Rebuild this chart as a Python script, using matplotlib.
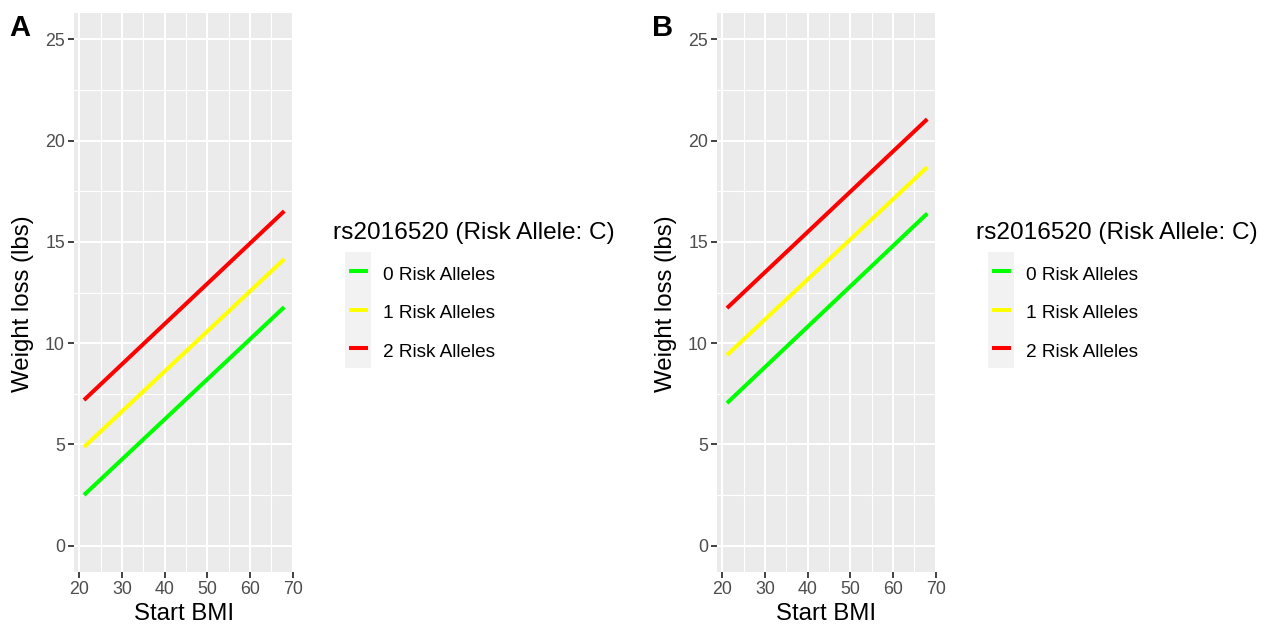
import matplotlib

matplotlib.use("Agg")
import matplotlib.pyplot as plt
from matplotlib.patches import Rectangle
from matplotlib.lines import Line2D

# data
bmi_range = [21.1, 68.0]
panel_labels = ["A", "B"]
allele_labels = ["0 Risk Alleles", "1 Risk Alleles", "2 Risk Alleles"]
allele_colors = ["#00FF00", "#FFFF00", "#FF0000"]
loss_a = [[2.50, 11.78], [4.87, 14.15], [7.19, 16.52]]
loss_b = [[7.04, 16.40], [9.41, 18.69], [11.73, 21.06]]
x_ticks = [20, 30, 40, 50, 60, 70]
x_minor = [25, 35, 45, 55, 65]
y_ticks = [0, 5, 10, 15, 20, 25]
y_minor = [2.5, 7.5, 12.5, 17.5, 22.5]
legend_title = "rs2016520 (Risk Allele: C)"
x_label = "Start BMI"
y_label = "Weight loss (lbs)"

W, H = 1271, 632
FONT = "Liberation Sans"

fig = plt.figure(figsize=(W / 100, H / 100), dpi=100)
fig.patch.set_facecolor("white")


def fx(px):
    return px / W


def fy(py):
    return 1 - py / H


def draw_panel(offset, label, series):
    left, right, top, bottom = 74 + offset, 293 + offset, 13, 572
    ax = fig.add_axes([fx(left), fy(bottom), fx(right - left), (bottom - top) / H])
    ax.set_facecolor("#EBEBEB")
    for s in ax.spines.values():
        s.set_visible(False)
    for xv in x_minor:
        ax.axvline(xv, color="white", lw=0.8, zorder=0)
    for yv in y_minor:
        ax.axhline(yv, color="white", lw=0.8, zorder=0)
    for xv in x_ticks:
        ax.axvline(xv, color="white", lw=1.5, zorder=0)
    for yv in y_ticks:
        ax.axhline(yv, color="white", lw=1.5, zorder=0)
    for vals, col in zip(series, allele_colors):
        ax.plot(bmi_range, vals, color=col, lw=2.9, solid_capstyle="butt", zorder=2)
    ax.set_xlim(18.76, 70.05)
    ax.set_ylim(-1.3, 26.3)
    ax.set_xticks(x_ticks)
    ax.set_yticks(y_ticks)
    ax.tick_params(length=4, width=1.3, color="#333333", labelcolor="#4D4D4D",
                   labelsize=12.8, pad=2.5)
    for t in ax.get_xticklabels() + ax.get_yticklabels():
        t.set_fontfamily(FONT)

    fig.text(fx((left + right) / 2), fy(620), x_label, ha="center", va="baseline",
             fontsize=17.3, family=FONT, color="black")
    fig.text(fx(23 + offset), fy(304), y_label, ha="center", va="center",
             rotation=90, fontsize=17.3, family=FONT, color="black")
    fig.text(fx(9 + offset), fy(36), label, ha="left", va="baseline",
             fontsize=21, fontweight="bold", family=FONT, color="black")

    # legend
    fig.text(fx(333 + offset), fy(239.5), legend_title, ha="left", va="baseline",
             fontsize=17.6, family=FONT, color="black")
    fig.patches.append(Rectangle((fx(345 + offset), fy(368)), fx(26), 116 / H,
                                 transform=fig.transFigure, facecolor="#F2F2F2",
                                 edgecolor="none"))
    for i, (lab, col) in enumerate(zip(allele_labels, allele_colors)):
        yc = 271 + i * 38.5
        fig.lines.append(Line2D([fx(349 + offset), fx(368 + offset)], [fy(yc), fy(yc)],
                                transform=fig.transFigure, color=col, lw=2.9,
                                solid_capstyle="butt"))
        fig.text(fx(383 + offset), fy(yc + 9), lab, ha="left", va="baseline",
                 fontsize=13.7, family=FONT, color="black")


draw_panel(0, panel_labels[0], loss_a)
draw_panel(643, panel_labels[1], loss_b)

fig.savefig("out.png", dpi=100)
